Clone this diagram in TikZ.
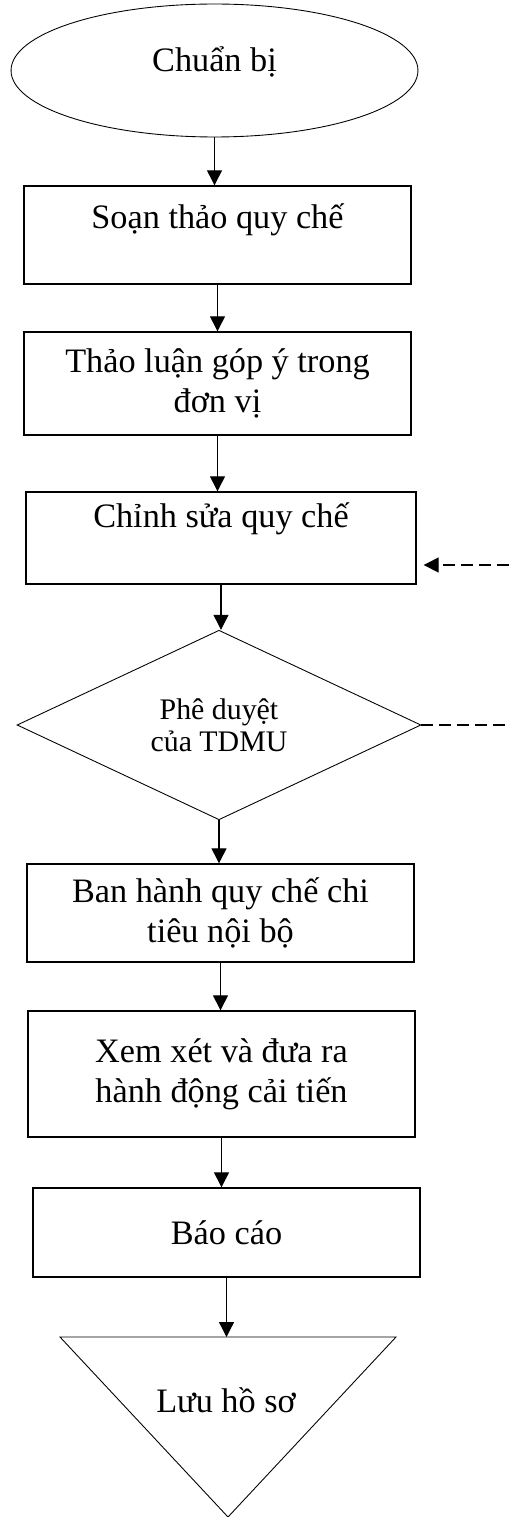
\documentclass[tikz,border=0pt]{standalone}
\usepackage{fontspec}
\setmainfont{Liberation Serif}
\usetikzlibrary{shapes.geometric,arrows.meta}

\begin{document}
\begin{tikzpicture}[x=0.02cm, y=-0.02cm,
    txt/.style={inner sep=0pt, align=center, font=\fontsize{19.5}{22.8}\selectfont},
    box/.style={txt, draw, line width=0.8pt, minimum width=7.74cm},
    tip/.style={-{Triangle[length=0.3cm,width=0.3cm]}},
    flow/.style={tip, line width=0.7pt},
    feedback/.style={line width=0.7pt, dash pattern=on 0.24cm off 0.12cm}]
    \useasboundingbox (0,0) rectangle (509,1517);
    % flow nodes with absolute coordinates
    \node[box, ellipse, line width=0.5pt, minimum width=8.14cm, minimum height=2.66cm, text height=0.5cm, text depth=0.44cm] (chuanbi) at (214.5,70.5) {Chuẩn bị};
    \node[box, minimum height=1.96cm, text height=0.5cm, text depth=0.76cm] (soan) at (217.5,235) {Soạn thảo quy chế};
    \node[box, minimum height=2.06cm] (thaoluan) at (217.5,383.5) {Thảo luận góp ý trong\\đơn vị};
    \node[box, minimum width=7.8cm, minimum height=1.84cm, text height=0.5cm, text depth=0.94cm] (chinhsua) at (221,538) {Chỉnh sửa quy chế};
    \node[box, diamond, line width=0.5pt, minimum width=8.08cm, minimum height=3.42cm, font=\fontsize{17}{18}\selectfont] (pheduyet) at (219,725) {Phê duyệt\\của TDMU};
    \node[box, minimum height=1.96cm] (banhanh) at (220.5,913) {Ban hành quy chế chi\\tiêu nội bộ};
    \node[box, minimum height=2.52cm] (xemxet) at (221.5,1074) {Xem xét và đưa ra\\hành động cải tiến};
    \node[box, minimum height=1.78cm] (baocao) at (226.5,1232.5) {Báo cáo};
    % storage triangle
    \coordinate (luutl) at (60,1337);
    \coordinate (luutr) at (396,1337);
    \coordinate (luubot) at (228,1517);
    \draw[line width=0.5pt] (luutl) -- (luutr) -- (luubot) -- cycle;
    \node[txt] (luuhoso) at (226,1400) {Lưu hồ sơ};
    \coordinate (luutop) at (228,1337);
    % feedback ends at the right edge
    \coordinate (fbout) at (509,725);
    \coordinate (fbin) at (509,565);
    \draw[flow] (chuanbi.south) -- (chuanbi.south |- soan.north);
    \draw[flow] (soan.south) -- (soan.south |- thaoluan.north);
    \draw[flow] (thaoluan.south) -- (thaoluan.south |- chinhsua.north);
    \draw[flow] (chinhsua.south) -- (chinhsua.south |- pheduyet.north);
    \draw[flow] (pheduyet.south) -- (pheduyet.south |- banhanh.north);
    \draw[flow] (banhanh.south) -- (banhanh.south |- xemxet.north);
    \draw[flow] (xemxet.south) -- (xemxet.south |- baocao.north);
    \draw[flow] (baocao.south) -- (baocao.south |- luutop);
    \draw[feedback] (pheduyet.east) -- (fbout);
    \draw[feedback, tip, shorten >=0.14cm] (fbin) -- (chinhsua.east |- fbin);
\end{tikzpicture}
\end{document}
